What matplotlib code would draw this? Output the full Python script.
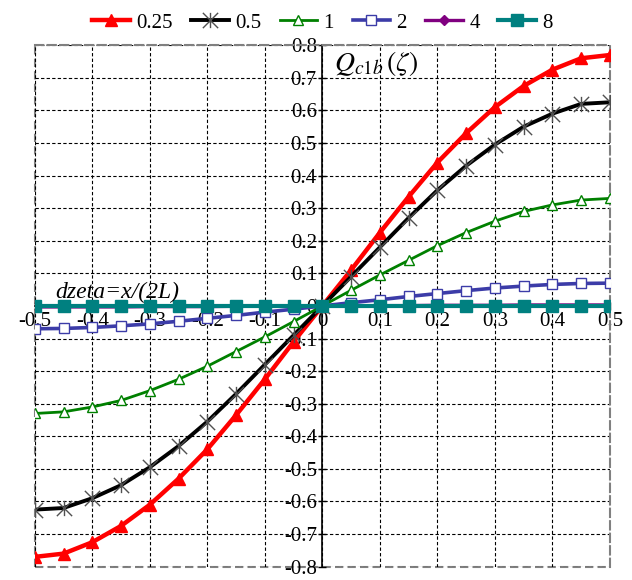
import matplotlib.pyplot as plt
from matplotlib.path import Path

plt.rcParams['font.family'] = ['Liberation Serif', 'DejaVu Serif']
plt.rcParams['mathtext.fontset'] = 'stix'

zeta = [-0.5, -0.45, -0.4, -0.35, -0.3, -0.25, -0.2, -0.15, -0.1, -0.05, 0.0,
        0.05, 0.1, 0.15, 0.2, 0.25, 0.3, 0.35, 0.4, 0.45, 0.5]

q_025 = [-0.77, -0.76, -0.725, -0.675, -0.61, -0.53, -0.44, -0.335, -0.225, -0.11, 0.0,
         0.11, 0.225, 0.335, 0.44, 0.53, 0.61, 0.675, 0.725, 0.76, 0.77]
q_05 = [-0.625, -0.62, -0.59, -0.55, -0.495, -0.43, -0.355, -0.27, -0.18, -0.09, 0.0,
        0.09, 0.18, 0.27, 0.355, 0.43, 0.495, 0.55, 0.59, 0.62, 0.625]
q_1 = [-0.33, -0.325, -0.31, -0.29, -0.26, -0.225, -0.185, -0.14, -0.095, -0.048, 0.0,
       0.048, 0.095, 0.14, 0.185, 0.225, 0.26, 0.29, 0.31, 0.325, 0.33]
q_2 = [-0.07, -0.069, -0.066, -0.061, -0.055, -0.047, -0.038, -0.029, -0.019, -0.01, 0.0,
       0.01, 0.019, 0.029, 0.038, 0.047, 0.055, 0.061, 0.066, 0.069, 0.07]
q_4 = [-0.003, -0.003, -0.003, -0.003, -0.002, -0.002, -0.002, -0.001, -0.001, 0.0, 0.0,
       0.0, 0.001, 0.001, 0.002, 0.002, 0.002, 0.003, 0.003, 0.003, 0.003]
q_8 = [0.0] * 21

# Excel-style star marker: an X with a vertical stroke
star = Path([(-1, -1), (1, 1), (-1, 1), (1, -1), (0, -1), (0, 1)],
            [Path.MOVETO, Path.LINETO, Path.MOVETO, Path.LINETO, Path.MOVETO, Path.LINETO])

series = [
    ('0.25', q_025, dict(color='#ff0000', lw=3.2, marker='^', ms=8, mfc='#ff0000', mec='#ff0000')),
    ('0.5', q_05, dict(color='black', lw=2.8, marker=star, ms=11, mfc='none', mec='#505050', mew=1.0)),
    ('1', q_1, dict(color='#008000', lw=2.0, marker='^', ms=6.5, mfc='white', mec='#008000', mew=1.0)),
    ('2', q_2, dict(color='#3c3ca8', lw=2.6, marker='s', ms=6.5, mfc='white', mec='#3c3ca8', mew=1.0)),
    ('4', q_4, dict(color='#800080', lw=2.4, marker='D', ms=5, mfc='#800080', mec='#800080')),
    ('8', q_8, dict(color='#008080', lw=3.0, marker='s', ms=8, mfc='#008080', mec='#008080')),
]

fig = plt.figure(figsize=(6.32, 5.8), dpi=100)
ax = fig.add_axes([0.055, 0.023, 0.91, 0.899])

for label, vals, style in series:
    ax.plot(zeta, vals, label=label, zorder=3, **style)

ax.set_xlim(-0.5, 0.5)
ax.set_ylim(-0.8, 0.8)
ticks_x = [-0.5, -0.4, -0.3, -0.2, -0.1, 0, 0.1, 0.2, 0.3, 0.4, 0.5]
ticks_y = [-0.8, -0.7, -0.6, -0.5, -0.4, -0.3, -0.2, -0.1, 0, 0.1, 0.2, 0.3, 0.4, 0.5, 0.6, 0.7, 0.8]
ax.set_xticks(ticks_x)
ax.set_yticks(ticks_y)
ax.set_xticklabels(['%g' % t for t in ticks_x])
ax.set_yticklabels(['%g' % t for t in ticks_y])

ax.grid(True, color='black', linestyle=(0, (3, 2)), linewidth=0.8, zorder=0)

ax.spines['left'].set_position('zero')
ax.spines['bottom'].set_position('zero')
ax.spines['left'].set_linewidth(1.2)
ax.spines['bottom'].set_linewidth(1.2)
for side in ['top', 'right']:
    ax.spines[side].set_linestyle((0, (4, 2)))
    ax.spines[side].set_color('#808080')
    ax.spines[side].set_linewidth(1.5)
ax.axvline(-0.5, color='#808080', ls=(0, (4, 2)), lw=1.5, clip_on=False, zorder=1)
ax.axhline(-0.8, color='#808080', ls=(0, (4, 2)), lw=1.5, clip_on=False, zorder=1)

ax.tick_params(direction='inout', length=6, width=1.0, labelsize=15, pad=1)

ax.text(0.02, 0.745, r'$Q_{c1b}\,(\zeta)$', fontsize=20, ha='left', va='center')
ax.text(-0.465, 0.025, 'dzeta=x/(2L)', fontsize=17, style='italic', ha='left', va='baseline')

ax.legend(loc='lower center', bbox_to_anchor=(0.5, 1.0), ncol=6, frameon=False,
          fontsize=15, handlelength=1.8, handletextpad=0.3, columnspacing=0.9,
          borderaxespad=0.2)

fig.savefig('out.png', dpi=100)
